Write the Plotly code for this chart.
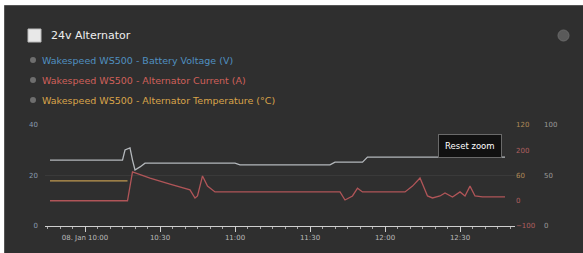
import plotly.graph_objects as go

# ---- data ----
volt_times = ["2024-01-08 09:46", "2024-01-08 10:15", "2024-01-08 10:16", "2024-01-08 10:18",
              "2024-01-08 10:19", "2024-01-08 10:20", "2024-01-08 10:22", "2024-01-08 10:24",
              "2024-01-08 11:00", "2024-01-08 11:02", "2024-01-08 11:38", "2024-01-08 11:40",
              "2024-01-08 11:51", "2024-01-08 11:53", "2024-01-08 12:48"]
volt_values = [26.1, 26.1, 30.1, 30.9, 26.1, 22.2, 23.4, 24.9, 24.9, 24.2, 24.2, 25.3, 25.3, 27.3, 27.3]

curr_times = ["2024-01-08 09:46", "2024-01-08 10:16", "2024-01-08 10:17", "2024-01-08 10:19",
              "2024-01-08 10:26", "2024-01-08 10:34", "2024-01-08 10:42", "2024-01-08 10:44",
              "2024-01-08 10:45", "2024-01-08 10:47", "2024-01-08 10:49", "2024-01-08 10:52",
              "2024-01-08 11:42", "2024-01-08 11:44", "2024-01-08 11:47", "2024-01-08 11:49",
              "2024-01-08 11:51", "2024-01-08 12:08", "2024-01-08 12:11", "2024-01-08 12:14",
              "2024-01-08 12:17", "2024-01-08 12:19", "2024-01-08 12:22", "2024-01-08 12:24",
              "2024-01-08 12:27", "2024-01-08 12:30", "2024-01-08 12:32", "2024-01-08 12:34",
              "2024-01-08 12:36", "2024-01-08 12:39", "2024-01-08 12:48"]
curr_values = [0, 0, 0, 114, 90, 66, 43, 11, 19, 98, 58, 35, 35, 3, 19, 50, 35, 35, 58, 90,
               19, 11, 19, 31, 15, 35, 19, 58, 19, 15, 15]

temp_times = ["2024-01-08 09:46", "2024-01-08 10:00", "2024-01-08 10:17"]
temp_values = [53.5, 53.5, 53.5]

x_tickvals = ["2024-01-08 10:00", "2024-01-08 10:30", "2024-01-08 11:00",
              "2024-01-08 11:30", "2024-01-08 12:00", "2024-01-08 12:30"]
x_ticktext = ["08. Jan 10:00", "10:30", "11:00", "11:30", "12:00", "12:30"]
x_range = ["2024-01-08 09:44", "2024-01-08 12:52"]

names = ["Wakespeed WS500 - Battery Voltage (V)",
         "Wakespeed WS500 - Alternator Current (A)",
         "Wakespeed WS500 - Alternator Temperature (°C)"]
legend_colors = ["#4f8fc0", "#d0605a", "#d9a44a"]

# ---- figure ----
W, H = 583, 253
ml, mr, mt, mb = 45, 40, 125, 27
pw = W - ml - mr
ph = H - mt - mb
xdom_end = 470 / pw

def px_x(x):
    return (x - ml) / pw

def px_y(y):
    return (H - mb - y) / ph

fig = go.Figure()

fig.add_trace(go.Scatter(x=volt_times, y=volt_values, mode="lines", yaxis="y",
                         line=dict(color="#b4b8bc", width=1.3), showlegend=False, hoverinfo="skip"))
fig.add_trace(go.Scatter(x=curr_times, y=curr_values, mode="lines", yaxis="y2",
                         line=dict(color="#b05558", width=1.3), showlegend=False, hoverinfo="skip"))
fig.add_trace(go.Scatter(x=temp_times, y=temp_values, mode="lines", yaxis="y3",
                         line=dict(color="#c09a50", width=1.3), showlegend=False, hoverinfo="skip"))
fig.add_trace(go.Scatter(x=[None], y=[None], mode="lines", yaxis="y4", showlegend=False,
                         hoverinfo="skip"))

axis_font = dict(family="DejaVu Sans", size=7)
fig.update_layout(
    width=W, height=H,
    margin=dict(l=ml, r=mr, t=mt, b=mb, autoexpand=False),
    paper_bgcolor="#ffffff",
    plot_bgcolor="rgba(0,0,0,0)",
    font=dict(family="DejaVu Sans", color="#dddddd"),
    showlegend=False,
    xaxis=dict(domain=[0, xdom_end], type="date", range=x_range, automargin=False,
               tickvals=x_tickvals, ticktext=x_ticktext,
               showline=True, linecolor="#cfcfcf", linewidth=1,
               ticks="outside", ticklen=5, tickcolor="#cfcfcf",
               minor=dict(ticks="outside", ticklen=2, tickcolor="#aaaaaa", dtick=5 * 60 * 1000),
               showgrid=False, zeroline=False,
               tickfont=dict(family="DejaVu Sans", size=7, color="#bbbbbb")),
    yaxis=dict(range=[0, 40], tickvals=[0, 20, 40], showgrid=True, gridcolor="#3a3a3a",
               zeroline=False, tickfont=dict(axis_font, color="#8a9bb0"), ticks="",
               automargin=False, ticklabelstandoff=6),
    yaxis2=dict(range=[-100, 300], tickvals=[-100, 0, 200], overlaying="y", side="right",
                anchor="free", position=xdom_end, showgrid=False, zeroline=False,
                automargin=False, tickfont=dict(axis_font, color="#b06060")),
    yaxis3=dict(range=[0, 120], tickvals=[60, 120], overlaying="y", side="right",
                anchor="free", position=xdom_end, showgrid=False, zeroline=False,
                automargin=False, tickfont=dict(axis_font, color="#b08a58")),
    yaxis4=dict(range=[0, 100], tickvals=[0, 50, 100], overlaying="y", side="right",
                anchor="free", position=1.0, showgrid=False, zeroline=False,
                automargin=False, tickfont=dict(axis_font, color="#9a9a9a")),
)

# panel background and border
fig.add_shape(type="rect", xref="paper", yref="paper", layer="below",
              x0=px_x(4.5), x1=px_x(W + 3), y0=px_y(H + 3), y1=px_y(5.5),
              fillcolor="#2f2f2f", line=dict(color="#555555", width=1))
# title checkbox
fig.add_shape(type="rect", xref="paper", yref="paper",
              x0=px_x(28), x1=px_x(41), y0=px_y(42), y1=px_y(29),
              fillcolor="#e8e8e8", line=dict(color="#bbbbbb", width=1))
# gear icon
fig.add_shape(type="circle", xref="paper", yref="paper",
              x0=px_x(558), x1=px_x(569), y0=px_y(41), y1=px_y(30),
              fillcolor="#5a5a5a", line=dict(color="#6a6a6a", width=1))

fig.add_annotation(text="24v Alternator", xref="paper", yref="paper",
                   x=px_x(49), y=px_y(35.5), xanchor="left", yanchor="middle",
                   showarrow=False, font=dict(family="DejaVu Sans", size=11, color="#eeeeee"))

# legend rows
for i, (n, c) in enumerate(zip(names, legend_colors)):
    yc = 60 + 20 * i
    fig.add_shape(type="circle", xref="paper", yref="paper",
                  x0=px_x(30), x1=px_x(36), y0=px_y(yc + 3), y1=px_y(yc - 3),
                  fillcolor="#6e6e6e", line=dict(width=0))
    fig.add_annotation(text=n, xref="paper", yref="paper",
                       x=px_x(40), y=px_y(yc), xanchor="left", yanchor="middle",
                       showarrow=False, font=dict(family="DejaVu Sans", size=9.5, color=c))

fig.add_annotation(text="Reset zoom", xref="paper", yref="paper",
                   x=px_x(470), y=px_y(146), xanchor="center", yanchor="middle",
                   showarrow=False, bgcolor="#111111", bordercolor="#6a6a6a", borderwidth=1,
                   borderpad=6, font=dict(family="DejaVu Sans", size=8.5, color="#ffffff"))

fig.write_html("out.html", config={"displayModeBar": False},
               post_script="document.body.style.margin='0';")
